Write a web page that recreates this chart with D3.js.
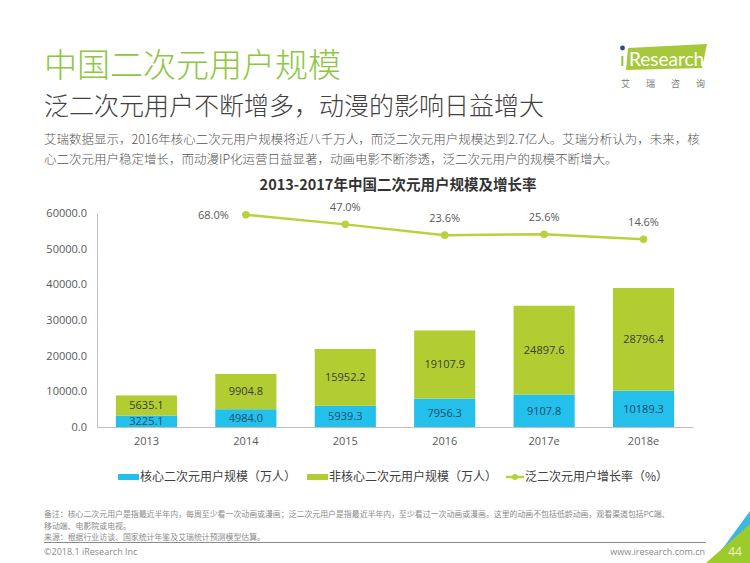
<!DOCTYPE html>
<html><head><meta charset="utf-8">
<script src="https://cdn.jsdelivr.net/npm/d3@7"></script>
<style>
html,body{margin:0;padding:0;background:#fff;}
svg{display:block;font-family:"Noto Sans CJK SC","Noto Sans",sans-serif;}
</style></head>
<body>
<svg id="c" width="750" height="563"></svg>
<script>
const categories = ["2013","2014","2015","2016","2017e","2018e"];
const coreUsers = [3225.1, 4984.0, 5939.3, 7956.3, 9107.8, 10189.3];
const nonCoreUsers = [5635.1, 9904.8, 15952.2, 19107.9, 24897.6, 28796.4];
const growthCats = ["2014","2015","2016","2017e","2018e"];
const growthRate = [68.0, 47.0, 23.6, 25.6, 14.6];
const yTicks = [0, 10000, 20000, 30000, 40000, 50000, 60000];
const seriesNames = ["核心二次元用户规模（万人）","非核心二次元用户规模（万人）","泛二次元用户增长率（%）"];

const C_BLUE = "#22c0ea", C_GREEN = "#b2cd32", C_LINE = "#b7d23c", C_TITLE = "#8dc63f";
const svg = d3.select("#c");

// Header
svg.append("text").attr("x",44).attr("y",77).attr("font-size",33).attr("font-weight",300).attr("fill",C_TITLE).text("中国二次元用户规模");
svg.append("text").attr("x",44).attr("y",115).attr("font-size",25).attr("font-weight",300).attr("fill","#404040").text("泛二次元用户不断增多，动漫的影响日益增大");
svg.append("text").attr("x",44).attr("y",144).attr("font-size",12.5).attr("font-weight",300).attr("fill","#555")
  .text("艾瑞数据显示，2016年核心二次元用户规模将近八千万人，而泛二次元用户规模达到2.7亿人。艾瑞分析认为，未来，核");
svg.append("text").attr("x",44).attr("y",164).attr("font-size",12.5).attr("font-weight",300).attr("fill","#555")
  .text("心二次元用户稳定增长，而动漫IP化运营日益显著，动画电影不断渗透，泛二次元用户的规模不断增大。");

// Logo
const logo = svg.append("g");
logo.append("polygon").attr("points","628,48 707,44 702,68 626,70").attr("fill","#a6c83a");
logo.append("circle").attr("cx",622.5).attr("cy",48).attr("r",2.4).attr("fill","#2a4a8a");
logo.append("text").attr("x",620).attr("y",66).attr("font-size",19).attr("font-family","Lato, 'Open Sans', sans-serif").attr("fill","#8dbb2f").text("ı");
logo.append("text").attr("x",629).attr("y",66).attr("font-size",19).attr("font-family","Lato, 'Open Sans', sans-serif").attr("fill","#fff").text("Research");
["艾","瑞","咨","询"].forEach((t,i)=>{
  logo.append("text").attr("x",621+i*25).attr("y",87).attr("font-size",9).attr("fill","#777").text(t);
});

// Chart title
svg.append("text").attr("x",398).attr("y",190).attr("text-anchor","middle").attr("font-size",14.5)
  .attr("font-weight","bold").attr("fill","#333").text("2013-2017年中国二次元用户规模及增长率");

// Scales
const x = d3.scaleBand().domain(categories).range([97,693]).paddingInner(0.385).paddingOuter(0.19);
const y = d3.scaleLinear().domain([0,60000]).range([427,213]);
const y2 = d3.scaleLinear().domain([-393,71.7]).range([427,213]);

// Y axis
const yAxis = d3.axisLeft(y).tickValues(yTicks).tickFormat(d=>d3.format(".1f")(d)).tickSize(0).tickPadding(10);
const gy = svg.append("g").attr("transform","translate(97,0)").call(yAxis);
gy.select(".domain").attr("stroke","#bfbfbf");
gy.selectAll("text").attr("font-size",11).attr("fill","#595959").attr("font-family","'Open Sans','Noto Sans',sans-serif");

// Bars
const g = svg.append("g");
categories.forEach((c,i)=>{
  const bx = x(c), bw = x.bandwidth();
  const c0 = coreUsers[i], n0 = nonCoreUsers[i];
  g.append("rect").attr("x",bx).attr("width",bw).attr("y",y(c0)).attr("height",y(0)-y(c0)).attr("fill",C_BLUE);
  g.append("rect").attr("x",bx).attr("width",bw).attr("y",y(c0+n0)).attr("height",y(c0)-y(c0+n0)).attr("fill",C_GREEN);
  g.append("text").attr("x",bx+bw/2).attr("y",(y(0)+y(c0))/2).attr("dy","0.35em").attr("text-anchor","middle")
    .attr("font-size",11).attr("fill","#1f4a6a").attr("font-family","'Open Sans','Noto Sans',sans-serif").text(d3.format(".1f")(c0));
  g.append("text").attr("x",bx+bw/2).attr("y",(y(c0)+y(c0+n0))/2).attr("dy","0.35em").attr("text-anchor","middle")
    .attr("font-size",11).attr("fill","#3a3a3a").attr("font-family","'Open Sans','Noto Sans',sans-serif").text(d3.format(".1f")(n0));
});

// X axis
const xAxis = d3.axisBottom(x).tickSize(0).tickPadding(10);
const gx = svg.append("g").attr("transform","translate(0,427)").call(xAxis);
gx.select(".domain").attr("stroke","#bfbfbf");
gx.selectAll("text").attr("font-size",11).attr("fill","#595959").attr("font-family","'Open Sans','Noto Sans',sans-serif");

// Line
const pts = growthCats.map((c,i)=>[x(c)+x.bandwidth()/2, y2(growthRate[i]), growthRate[i]]);
svg.append("path").attr("d",d3.line()(pts.map(p=>[p[0],p[1]]))).attr("fill","none").attr("stroke",C_LINE).attr("stroke-width",2.5);
pts.forEach((p,i)=>{
  svg.append("circle").attr("cx",p[0]).attr("cy",p[1]).attr("r",3.8).attr("fill",C_LINE);
  const lab = svg.append("text").attr("font-size",11).attr("fill","#595959").attr("font-family","'Open Sans','Noto Sans',sans-serif")
    .text(d3.format(".1f")(p[2])+"%");
  if(i===0){ lab.attr("x",p[0]-17).attr("y",p[1]).attr("dy","0.35em").attr("text-anchor","end"); }
  else { lab.attr("x",p[0]).attr("y",p[1]-13).attr("text-anchor","middle"); }
});

// Legend
const lg = svg.append("g").attr("font-size",12).attr("fill","#404040");
lg.append("rect").attr("x",118).attr("y",474).attr("width",21).attr("height",6).attr("fill",C_BLUE);
lg.append("text").attr("x",140).attr("y",477).attr("dy","0.36em").attr("fill","#404040").text(seriesNames[0]);
lg.append("rect").attr("x",307).attr("y",474).attr("width",21).attr("height",6).attr("fill",C_GREEN);
lg.append("text").attr("x",329).attr("y",477).attr("dy","0.36em").attr("fill","#404040").text(seriesNames[1]);
lg.append("line").attr("x1",506).attr("x2",524).attr("y1",477).attr("y2",477).attr("stroke",C_LINE).attr("stroke-width",2.5);
lg.append("circle").attr("cx",515).attr("cy",477).attr("r",3).attr("fill",C_LINE);
lg.append("text").attr("x",525).attr("y",477).attr("dy","0.36em").attr("fill","#404040").text(seriesNames[2]);

// Footer
const ft = svg.append("g").attr("font-size",7.9).attr("fill","#8a8a8a");
ft.append("text").attr("x",44).attr("y",517).text("备注：核心二次元用户是指最近半年内，每周至少看一次动画或漫画；泛二次元用户是指最近半年内，至少看过一次动画或漫画。这里的动画不包括低龄动画，观看渠道包括PC端、");
ft.append("text").attr("x",44).attr("y",529).text("移动端、电影院或电视。");
ft.append("text").attr("x",44).attr("y",540).text("来源：根据行业访谈、国家统计年鉴及艾瑞统计预测模型估算。");
svg.append("line").attr("x1",44).attr("x2",706).attr("y1",542.5).attr("y2",542.5).attr("stroke","#8a8a8a").attr("stroke-width",1);
svg.append("text").attr("x",44).attr("y",555).attr("font-size",9).attr("fill","#8a8a8a").attr("font-family","'Open Sans',sans-serif").text("©2018.1 iResearch Inc");
svg.append("text").attr("x",705).attr("y",555).attr("text-anchor","end").attr("font-size",9).attr("fill","#8a8a8a").attr("font-family","'Open Sans',sans-serif").text("www.iresearch.com.cn");

// Corner decoration
svg.append("polygon").attr("points","750,511 750,563 712,563").attr("fill","#3cb6e3");
svg.append("polygon").attr("points","750,524 750,563 706,563").attr("fill","#9ccb2c");
svg.append("text").attr("x",735).attr("y",556).attr("text-anchor","middle").attr("font-size",12).attr("fill","#eef5c8").attr("font-family","'Open Sans',sans-serif").text("44");
</script>
</body></html>
